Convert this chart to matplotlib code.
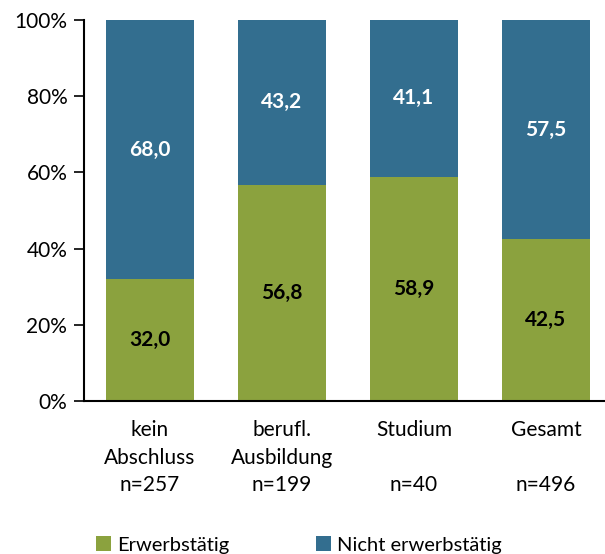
import matplotlib
matplotlib.use("Agg")
import matplotlib.pyplot as plt
import numpy as np

# data
categories = ["kein\nAbschluss\nn=257", "berufl.\nAusbildung\nn=199",
              "Studium\n\nn=40", "Gesamt\n\nn=496"]
erwerbstaetig = [32.0, 56.8, 58.9, 42.5]
nicht_erwerbstaetig = [68.0, 43.2, 41.1, 57.5]
yticks = [0, 20, 40, 60, 80, 100]

green = "#8ba23e"
blue = "#336e8f"

plt.rcParams['font.family'] = ['Lato', 'DejaVu Sans']

fig = plt.figure(figsize=(6.05, 5.54), dpi=100)
ax = fig.add_axes([84/605, (554-401)/554, 1 - 84/605, 381/554])

x = np.arange(len(categories))
b1 = ax.bar(x, erwerbstaetig, width=0.667, color=green, label="Erwerbstätig")
b2 = ax.bar(x, nicht_erwerbstaetig, width=0.667, bottom=erwerbstaetig,
            color=blue, label="Nicht erwerbstätig")

for i in range(len(x)):
    ax.text(x[i], erwerbstaetig[i] / 2, f"{erwerbstaetig[i]:.1f}".replace(".", ","),
            ha="center", va="center", fontsize=15, fontweight="bold", color="black")
    ax.text(x[i], erwerbstaetig[i] + nicht_erwerbstaetig[i] / 2,
            f"{nicht_erwerbstaetig[i]:.1f}".replace(".", ","),
            ha="center", va="center", fontsize=15, fontweight="bold", color="white")

ax.set_xlim(-0.5, 3.447)
ax.set_ylim(0, 100)
ax.set_yticks(yticks)
ax.set_yticklabels([f"{t}%" for t in yticks], fontsize=15)
ax.set_xticks(x)
ax.set_xticklabels(categories, fontsize=15, linespacing=1.45)
ax.tick_params(axis="x", length=0, pad=14)
ax.tick_params(axis="y", length=7, width=1.2, pad=5)
ax.spines["top"].set_visible(False)
ax.spines["right"].set_visible(False)
ax.spines["left"].set_linewidth(1.5)
ax.spines["bottom"].set_linewidth(1.5)

fig.legend(handles=[b1, b2], loc="lower left", bbox_to_anchor=(78/605, -0.032),
           ncol=2, frameon=False, fontsize=14.5, handlelength=0.75, handleheight=0.75,
           handletextpad=0.3, columnspacing=4.3)

fig.savefig("out.png", dpi=100)
